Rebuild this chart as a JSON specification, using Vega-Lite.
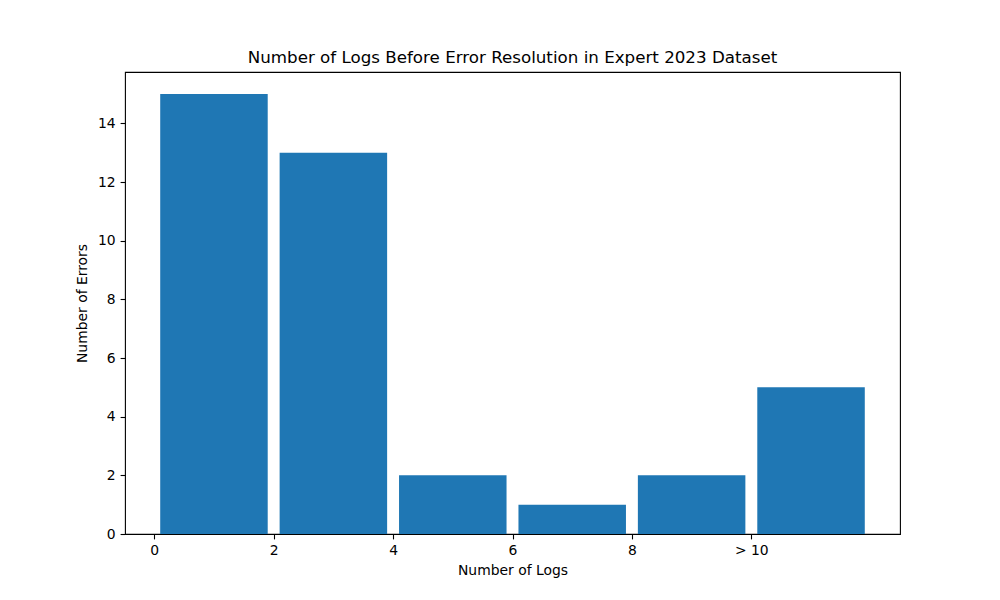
{
  "$schema": "https://vega.github.io/schema/vega-lite/v6.json",
  "autosize": "none",
  "width": 775,
  "height": 462,
  "padding": {"left": 125, "top": 72, "right": 100, "bottom": 66},
  "background": "white",
  "title": {
    "text": "Number of Logs Before Error Resolution in Expert 2023 Dataset",
    "font": "DejaVu Sans",
    "fontSize": 16.7,
    "fontWeight": "normal",
    "color": "black",
    "anchor": "middle",
    "offset": 5
  },
  "config": {
    "view": {"stroke": "black", "strokeWidth": 1.1},
    "axis": {
      "labelFont": "DejaVu Sans",
      "labelFontSize": 13.9,
      "labelColor": "black",
      "titleFont": "DejaVu Sans",
      "titleFontSize": 13.9,
      "titleFontWeight": "normal",
      "titleColor": "black",
      "tickColor": "black",
      "tickWidth": 1.1,
      "tickSize": 4.9,
      "labelPadding": 4.9,
      "titlePadding": 5.5,
      "domain": false,
      "grid": false
    }
  },
  "data": {
    "values": [
      {"bin_mid": 1, "errors": 15},
      {"bin_mid": 3, "errors": 13},
      {"bin_mid": 5, "errors": 2},
      {"bin_mid": 7, "errors": 1},
      {"bin_mid": 9, "errors": 2},
      {"bin_mid": 11, "errors": 5}
    ]
  },
  "mark": {"type": "bar", "width": 107.5, "color": "#1f77b4"},
  "encoding": {
    "x": {
      "field": "bin_mid",
      "type": "quantitative",
      "scale": {"domain": [-0.49, 12.49], "nice": false, "zero": false, "padding": 0},
      "axis": {
        "title": "Number of Logs",
        "values": [0, 2, 4, 6, 8, 10],
        "labelExpr": "datum.value == 10 ? '> 10' : datum.label",
        "labelFlush": false
      }
    },
    "y": {
      "field": "errors",
      "type": "quantitative",
      "scale": {"domain": [0, 15.75], "nice": false},
      "axis": {
        "title": "Number of Errors",
        "values": [0, 2, 4, 6, 8, 10, 12, 14],
        "labelFlush": false,
        "titlePadding": 8
      }
    }
  }
}
